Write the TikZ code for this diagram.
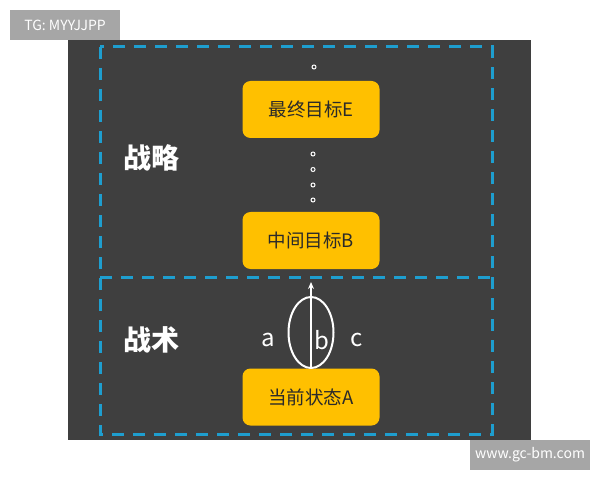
\documentclass[tikz,border=0pt]{standalone}
\usepackage{fontspec}
\setmainfont{Noto Sans CJK SC}
\newfontfamily\cjkfont{Noto Sans CJK SC}
\usetikzlibrary{shapes.geometric,arrows.meta}
\definecolor{bgdark}{HTML}{3F3F3F}
\definecolor{goal}{HTML}{FFC000}
\definecolor{dashblue}{HTML}{1E9ECF}
\definecolor{wmgray}{HTML}{A6A6A6}
\definecolor{goaltext}{HTML}{2A2A2A}
\begin{document}
\begin{tikzpicture}[x=1bp,y=-1bp,
  goalbox/.style={fill=goal,rounded corners=8bp,minimum width=137bp,minimum height=57bp,
    inner sep=0pt,text=goaltext,font=\cjkfont\fontsize{18.5bp}{22bp}\selectfont},
  sect/.style={text=white,font=\cjkfont\bfseries\fontsize{28bp}{32bp}\selectfont,inner sep=0pt},
  frame/.style={draw=dashblue,line width=3bp,dash pattern=on 12bp off 9bp},
  dotmark/.style={circle,draw=white,fill=bgdark,line width=1bp,minimum size=4bp,inner sep=0pt},
  letter/.style={text=white,font=\cjkfont\fontsize{24bp}{28bp}\selectfont,inner sep=0pt},
  wm/.style={fill=wmgray,text=white,inner sep=0pt,font=\fontsize{14bp}{16bp}\selectfont}]
\useasboundingbox (0,0) rectangle (600,480);
\fill[white] (0,0) rectangle (600,480);
\fill[bgdark] (68,40) rectangle (531,440);
% watermarks
\node[wm,minimum width=110bp,minimum height=30bp] (tg) at (65,25) {TG: MYYJJPP};
\node[wm,minimum width=120bp,minimum height=30bp] (web) at (530,455) {www.gc-bm.com};
% dashed frames
\draw[frame] (100,47) rectangle (492,434);
\draw[frame] (100,277) -- (492,277);
% section labels
\node[sect] (zl) at (151,158) {战略};
\node[sect] (zs) at (151,340) {战术};
% goal boxes
\node[goalbox] (E) at (311,109.5) {最终目标E};
\node[goalbox] (B) at (311,240.5) {中间目标B};
\node[goalbox] (A) at (311,397) {当前状态A};
% dots
\node[dotmark] (d0) at (314,67) {};
\node[dotmark] (d1) at (313,154) {};
\node[dotmark] (d2) at (313,169.5) {};
\node[dotmark] (d3) at (313,185) {};
\node[dotmark] (d4) at (313,200) {};
% ellipse and arrow
\node[ellipse,draw=white,line width=2bp,minimum width=45bp,minimum height=71bp,inner sep=0pt] (ell) at (311,332.5) {};
\coordinate (tip) at (311,282);
\draw[white,line width=1.5bp,-{Stealth[length=7bp,width=6bp]}] (A.north) -- (tip);
\node[letter] (la) at (268,340) {a};
\node[letter] (lb) at (322,340) {b};
\node[letter] (lc) at (357,340) {c};
\end{tikzpicture}
\end{document}
